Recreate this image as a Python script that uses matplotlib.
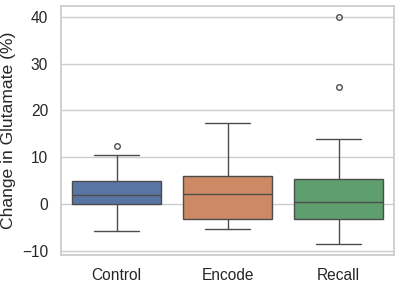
import matplotlib
matplotlib.use("Agg")
import matplotlib.pyplot as plt
import seaborn as sns
import pandas as pd

categories = ["Control", "Encode", "Recall"]
control = [-5.6, -2.1, -0.8, 0.2, 0.9, 1.5, 2.0, 2.8, 3.9, 5.0, 7.3, 10.6, 12.4]
encode = [-5.3, -4.4, -3.6, -3.0, -1.2, 0.5, 2.3, 3.1, 4.8, 6.1, 9.0, 12.5, 17.4]
recall = [-8.4, -6.0, -4.5, -3.2, -2.0, -0.6, 0.5, 1.8, 3.2, 5.4, 13.9, 25.1, 39.9]
y_label = "Change in Glutamate (%)"

sns.set_theme(style="whitegrid")
plt.rcParams["font.family"] = ["Liberation Sans", "DejaVu Sans"]

rows = []
for cat, vals in zip(categories, [control, encode, recall]):
    for v in vals:
        rows.append({"Condition": cat, "Value": v})
df = pd.DataFrame(rows)

fig, ax = plt.subplots(figsize=(4.0, 2.83), dpi=100)
sns.boxplot(data=df, x="Condition", y="Value", hue="Condition",
            order=categories, palette="deep", legend=False, ax=ax,
            fliersize=4, linewidth=1.0)
ax.set_xlabel("")
ax.set_ylabel(y_label, fontsize=12.6)
ax.tick_params(axis="both", labelsize=11.2)
fig.subplots_adjust(left=0.153, right=0.985, top=0.98, bottom=0.098)
fig.savefig("out.png", dpi=100)
